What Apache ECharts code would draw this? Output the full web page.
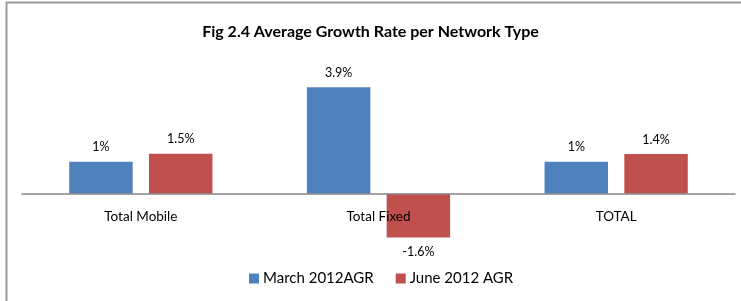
<!DOCTYPE html>
<html>
<head>
<meta charset="utf-8">
<script src="https://cdn.jsdelivr.net/npm/echarts@6/dist/echarts.min.js"></script>
<style>
  html, body { margin: 0; padding: 0; background: #fff; }
  #chart { width: 741px; height: 301px; }
</style>
</head>
<body>
<div id="chart"></div>
<script>
// values (percent)
const categories = ['Total Mobile', 'Total Fixed', 'TOTAL'];
const marchValues = [1.17, 3.9, 1.17];
const juneValues = [1.46, -1.6, 1.45];
// data labels as printed on the chart
const marchLabels = ['1%', '3.9%', '1%'];
const juneLabels = ['1.5%', '-1.6%', '1.4%'];
const seriesNames = ['March 2012AGR', 'June 2012 AGR'];

const font = 'Lato, "Open Sans", sans-serif';

function toItems(values, labels) {
  return values.map(function (v, i) {
    return {
      value: v,
      label: { position: v < 0 ? 'bottom' : 'top', formatter: labels[i] }
    };
  });
}

let myChart = echarts.init(document.getElementById('chart'));
let option = {
  animation: false,
  textStyle: { fontFamily: font, color: '#000' },
  title: {
    text: 'Fig 2.4 Average Growth Rate per Network Type',
    left: 'center',
    top: 19,
    textStyle: { fontFamily: font, fontSize: 16, fontWeight: 'bold', color: '#000' }
  },
  graphic: [{
    type: 'rect',
    shape: { x: 6.5, y: 2.5, width: 900, height: 500 },
    style: { fill: 'none', stroke: '#9a9a9a', lineWidth: 2 },
    silent: true
  }],
  legend: {
    bottom: 10,
    left: 244,
    itemWidth: 10,
    itemHeight: 10,
    itemGap: 22,
    icon: 'rect',
    textStyle: { fontFamily: font, fontSize: 15, color: '#000', padding: [0, 0, 0, -1] },
    data: seriesNames
  },
  grid: { left: 22, right: 6, top: 70.85, bottom: 52.7 },
  xAxis: {
    type: 'category',
    data: categories,
    axisLine: { onZero: true, lineStyle: { color: '#868686', width: 1.5 } },
    axisTick: { show: false },
    // labels sit just under the zero line, not at the bottom of the grid
    axisLabel: { margin: -38.5, fontSize: 13.5, color: '#000', fontFamily: font },
    z: 10
  },
  yAxis: {
    type: 'value',
    min: -2,
    max: 4.5,
    show: false,
    splitLine: { show: false }
  },
  series: [
    {
      name: seriesNames[0],
      type: 'bar',
      barWidth: '26.7%',
      barGap: '25.7%',
      itemStyle: { color: '#4F81BD' },
      label: { show: true, distance: 8, fontSize: 12.5, color: '#000', fontFamily: font },
      data: toItems(marchValues, marchLabels)
    },
    {
      name: seriesNames[1],
      type: 'bar',
      barWidth: '26.7%',
      itemStyle: { color: '#C0504D' },
      label: { show: true, distance: 8, fontSize: 12.5, color: '#000', fontFamily: font },
      data: toItems(juneValues, juneLabels)
    }
  ]
};
myChart.setOption(option);
window.addEventListener('resize', function () {
  myChart.resize();
});
</script>
</body>
</html>
